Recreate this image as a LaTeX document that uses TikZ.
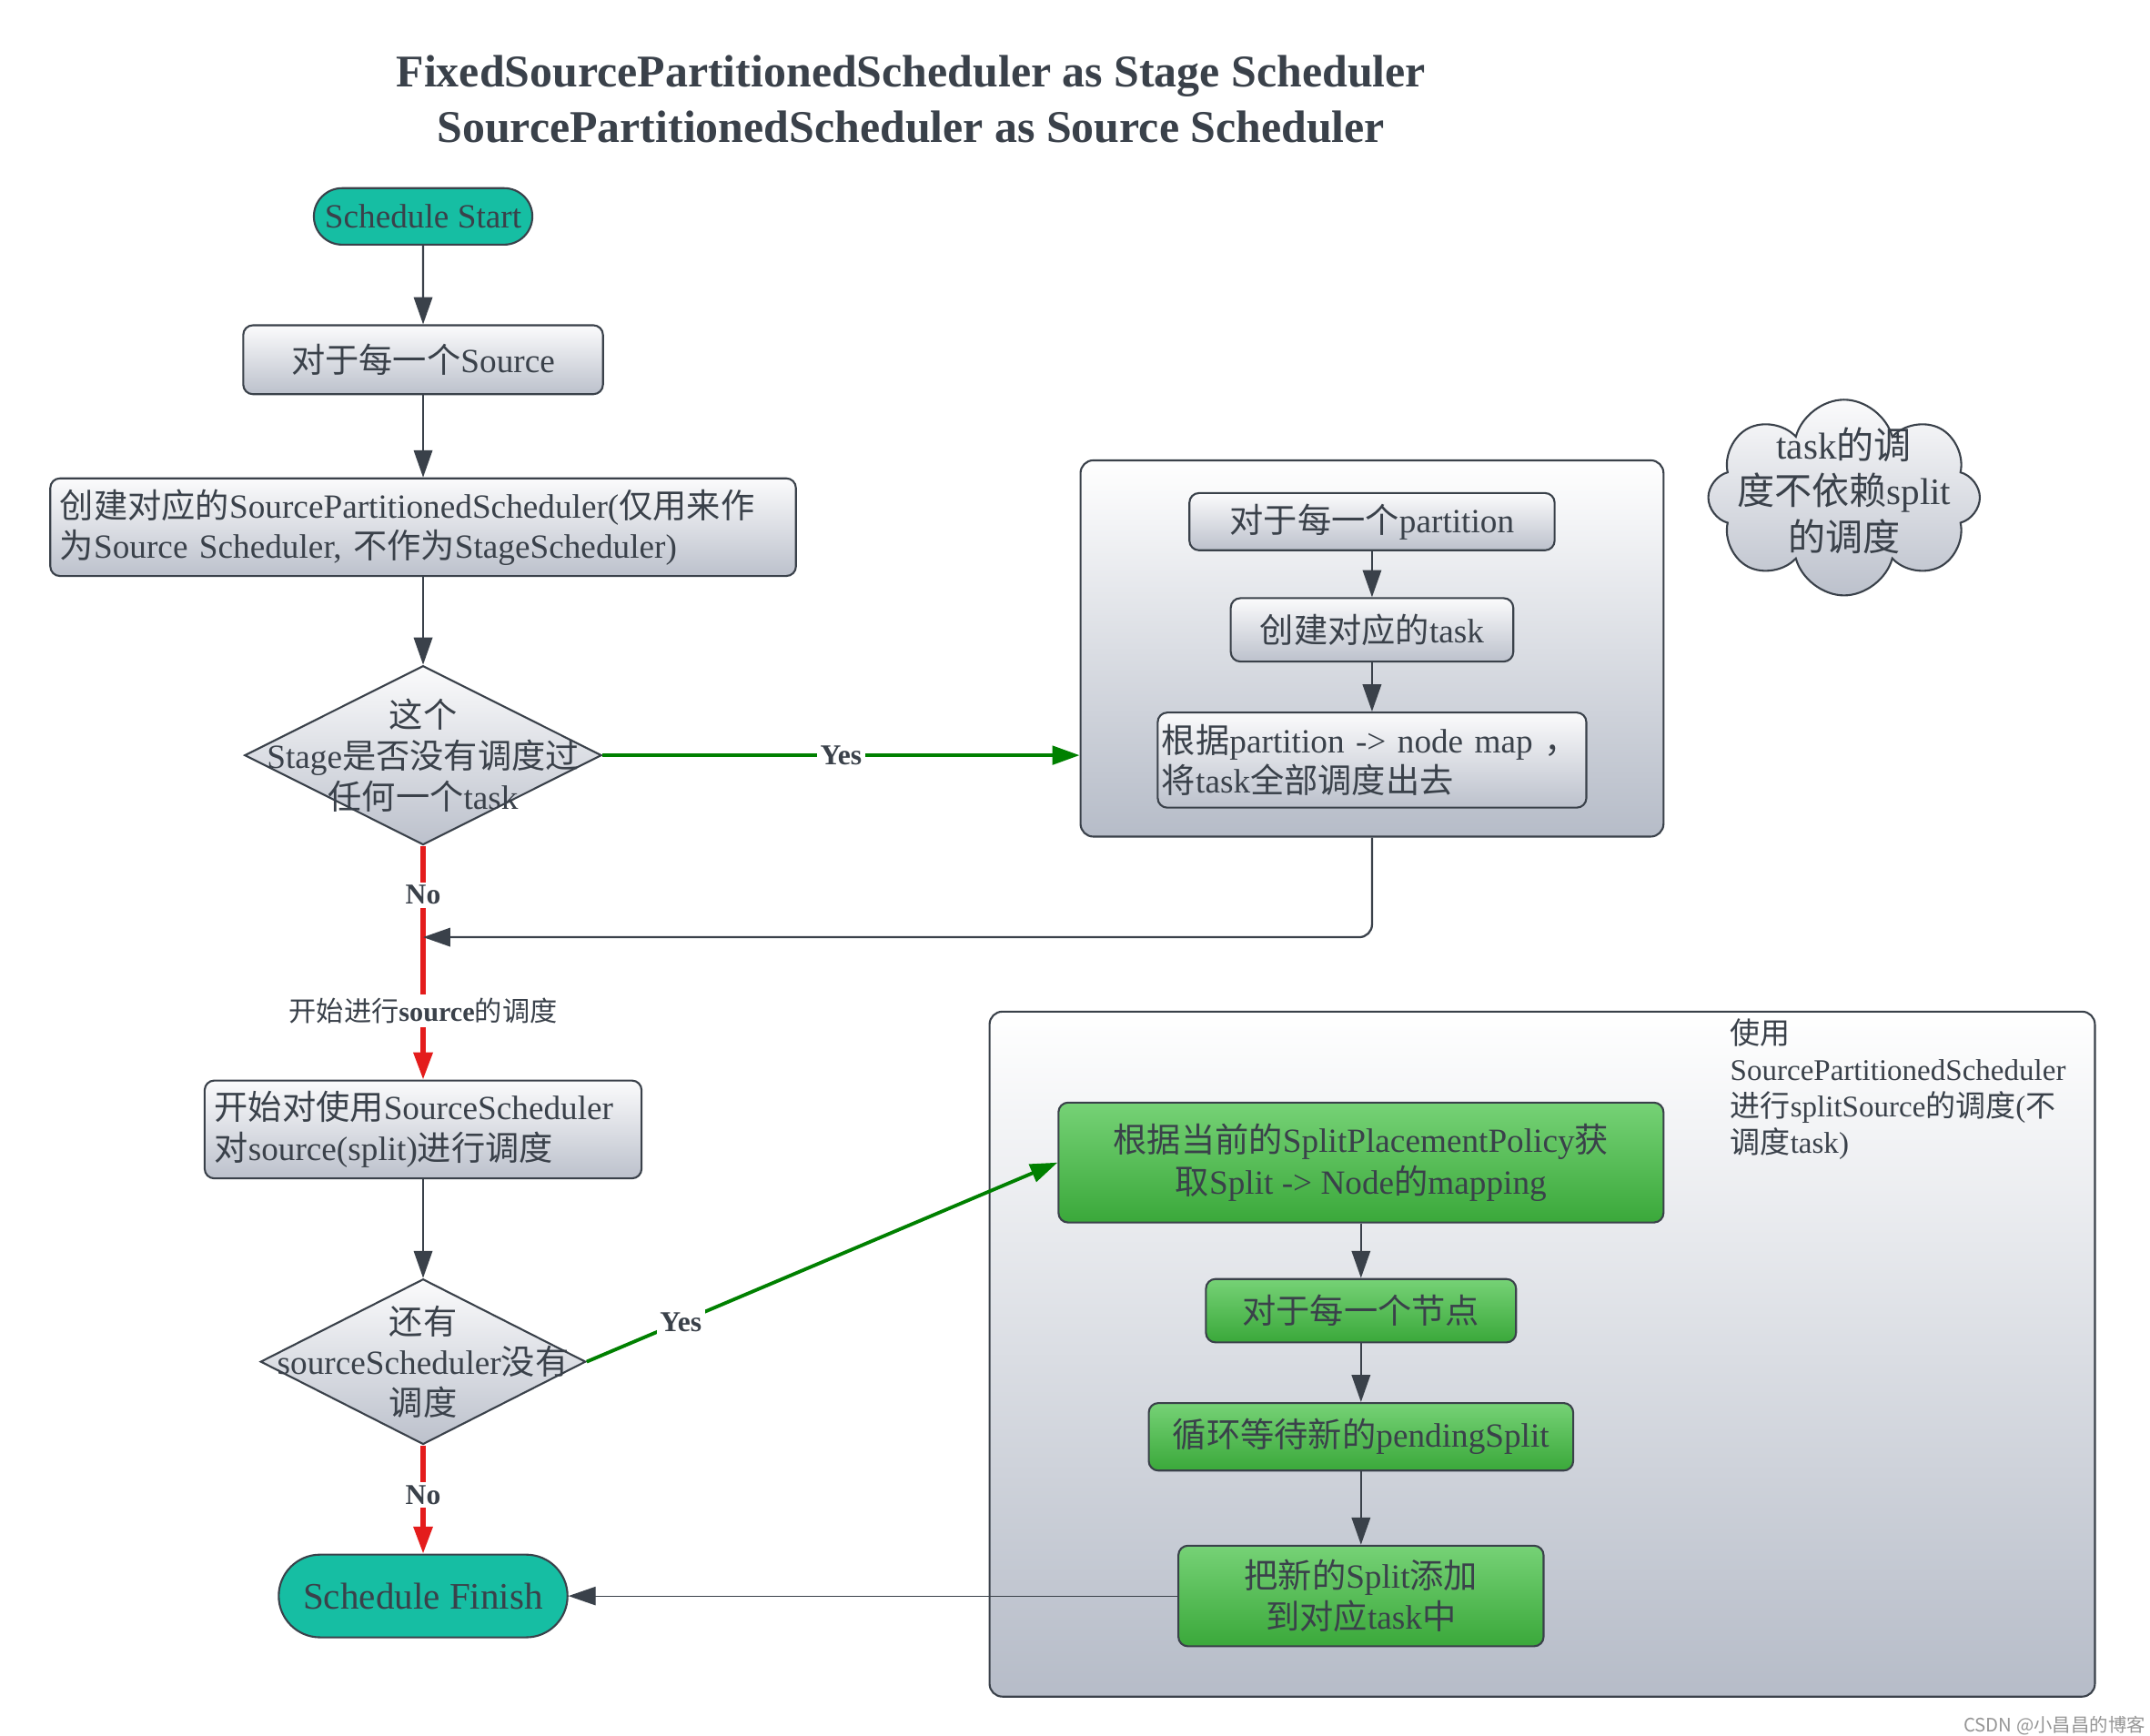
\documentclass[tikz,border=0pt]{standalone}
\usepackage{fontspec}
\setmainfont{Liberation Serif}
\newfontfamily\zhfont{Noto Sans CJK SC}
\newcommand\zh[1]{{\zhfont #1}}
\newcommand\fsz[2]{\fontsize{#1}{#2}\selectfont}
\newcommand\dpx{0.015147cm}
\usetikzlibrary{shapes.geometric,shapes.misc,shapes.symbols,arrows.meta}

\definecolor{ink}{HTML}{3A414A}
\definecolor{boxtop}{RGB}{251,251,252}
\definecolor{boxbot}{RGB}{188,193,204}
\definecolor{grpbot}{RGB}{182,188,200}
\definecolor{startteal}{RGB}{22,190,163}
\definecolor{gtop}{RGB}{118,210,118}
\definecolor{gbot}{RGB}{58,168,58}
\definecolor{okgreen}{RGB}{0,128,0}
\definecolor{nored}{RGB}{228,28,28}
\definecolor{wmgray}{RGB}{150,150,150}

\tikzset{
  tip/.style={-{Triangle[length=8.5pt,width=5.8pt]}},
  flow/.style={tip, draw=ink, line width=0.65pt},
  thinflow/.style={tip, draw=ink, line width=0.35pt},
  yesflow/.style={tip, draw=okgreen, line width=1.1pt},
  noflow/.style={tip, draw=nored, line width=1.5pt},
  lab/.style={fill=white, inner sep=1pt, text=ink, font=\bfseries\fsz{9}{10.5}},
  terminal/.style={rounded rectangle, draw=ink, line width=0.6pt, fill=startteal, text=ink},
  process/.style={rectangle, rounded corners=3pt, draw=ink, line width=0.6pt,
    top color=boxtop, bottom color=boxbot, text=ink, font=\fsz{10.6}{12.6}},
  splitbox/.style={process, top color=gtop, bottom color=gbot, align=center},
  decision/.style={diamond, draw=ink, line width=0.6pt, top color=boxtop,
    bottom color=boxbot, inner sep=0pt},
  group/.style={rectangle, rounded corners=4pt, draw=ink, line width=0.6pt,
    top color=white, bottom color=grpbot},
}

\begin{document}
\begin{tikzpicture}[x=\dpx, y=-\dpx]
\useasboundingbox (0,0) rectangle (1560,1259);
\fill[white] (0,0) rectangle (1560,1259);

% title
\node[align=center, text=ink, font=\bfseries\fsz{14.2}{17.2}] (title) at (661,72)
  {FixedSourcePartitionedScheduler as Stage Scheduler\\SourcePartitionedScheduler as Source Scheduler};

% left column
\node[terminal, minimum width=174*\dpx, minimum height=41*\dpx, font=\fsz{10.6}{12.6}] (start) at (307,157) {Schedule Start};
\node[process, minimum width=261*\dpx, minimum height=50*\dpx] (eachsrc) at (307,261) {\zh{对于每一个}Source};
\node[process, minimum height=65*\dpx, text width=527*\dpx, inner xsep=7*\dpx, align=left] (mksched) at (307,382.5)
  {\zh{创建对应的}SourcePartitionedScheduler(\zh{仅用来作}\\\zh{为}Source Scheduler, \zh{不作为}StageScheduler)};
\node[decision, minimum width=259*\dpx, minimum height=130*\dpx] (stagechk) at (307,548) {};
\node[align=center, text=ink, font=\fsz{10.6}{12.7}] (stagechktext) at (stagechk)
  {\zh{这个}\\Stage\zh{是否没有调度过}\\\zh{任何一个}task};
\node[process, minimum height=71*\dpx, text width=303*\dpx, inner xsep=7*\dpx, align=left] (scan) at (307,819.5)
  {\zh{开始对使用}SourceScheduler\\\zh{对}source(split)\zh{进行调度}};
\node[decision, minimum width=236*\dpx, minimum height=120*\dpx] (morechk) at (307,988) {};
\node[align=center, text=ink, font=\fsz{10.6}{12.7}] (morechktext) at (morechk)
  {\zh{还有}\\sourceScheduler\zh{没有}\\\zh{调度}};
\node[terminal, minimum width=225*\dpx, minimum height=60*\dpx, font=\fsz{11.7}{14}] (finish) at (307,1158) {Schedule Finish};

% task group
\node[group, minimum width=423*\dpx, minimum height=273*\dpx] (taskgrp) at (995.5,470.5) {};
\node[process, minimum width=265*\dpx, minimum height=37*\dpx] (eachpart) at (995.5,378.5) {\zh{对于每一个}partition};
\node[process, minimum width=205*\dpx, minimum height=46*\dpx] (mktask) at (995.5,457) {\zh{创建对应的}task};
\node[process, minimum height=69*\dpx, text width=305*\dpx, inner xsep=3*\dpx, align=left] (assign) at (995.5,551.5)
  {\mbox{\zh{根据}partition -> node map \zh{，}}\\\zh{将}task\zh{全部调度出去}};

% cloud note
\node[cloud, cloud puffs=8, aspect=1.39, draw=ink, line width=0.6pt, top color=boxtop, bottom color=boxbot,
  minimum width=197*\dpx, minimum height=142*\dpx, inner sep=0pt] (cloudnote) at (1338,361) {};
\node[align=center, text=ink, font=\fsz{11.7}{14.4}] (cloudtext) at (1338,356)
  {task\zh{的调}\\\zh{度不依赖}split\\\zh{的调度}};

% split group
\node[group, minimum width=802*\dpx, minimum height=497*\dpx] (splitgrp) at (1119,982.5) {};
\node[anchor=north west, inner sep=0pt, align=left, text=ink, font=\fsz{9.4}{11.3}] (grpnote) at (1255,739)
  {\zh{使用}\\SourcePartitionedScheduler\\\zh{进行}splitSource\zh{的调度}(\zh{不}\\\zh{调度}task)};
\node[splitbox, minimum width=439*\dpx, minimum height=87*\dpx, font=\fsz{10.6}{12.9}] (getmap) at (987.5,843.5)
  {\zh{根据当前的}SplitPlacementPolicy\zh{获}\\\zh{取}Split -> Node\zh{的}mapping};
\node[splitbox, minimum width=225*\dpx, minimum height=46*\dpx] (eachnode) at (987.5,951) {\zh{对于每一个节点}};
\node[splitbox, minimum width=308*\dpx, minimum height=49*\dpx] (waitsplit) at (987.5,1042.5) {\zh{循环等待新的}pendingSplit};
\node[splitbox, minimum width=265*\dpx, minimum height=73*\dpx, font=\fsz{10.6}{12.9}] (addsplit) at (987.5,1158)
  {\zh{把新的}Split\zh{添加}\\\zh{到对应}task\zh{中}};

% connectors
\coordinate (rejoin) at (307,680);
\draw[flow] (start) -- (eachsrc);
\draw[flow] (eachsrc) -- (mksched);
\draw[flow] (mksched) -- (stagechk);
\draw[yesflow] (stagechk.east) -- node[lab]{Yes} (stagechk.east -| taskgrp.west);
\draw[flow] (eachpart) -- (mktask);
\draw[flow] (mktask) -- (assign);
\draw[noflow] (stagechk.south) -- node[lab, pos=0.21]{No}
  node[pos=0.706, fill=white, inner sep=1pt, text=ink, font=\fsz{8.6}{10}]{\zh{开始进行}\textbf{source}\zh{的调度}} (scan.north);
\draw[flow, rounded corners=4pt] (taskgrp.south) |- (rejoin);
\draw[flow] (scan) -- (morechk);
\draw[yesflow] (morechk.east) -- node[lab, pos=0.2]{Yes} (getmap.west);
\draw[noflow] (morechk.south) -- node[lab, pos=0.46]{No} (finish.north);
\draw[flow] (getmap) -- (eachnode);
\draw[flow] (eachnode) -- (waitsplit);
\draw[flow] (waitsplit) -- (addsplit);
\draw[thinflow] (addsplit.west) -- (finish.east);

% watermark
\node[anchor=east, inner sep=0pt, text=wmgray, font=\zhfont\fsz{5.8}{7}] (mark) at (1557,1252) {CSDN @小昌昌的博客};
\end{tikzpicture}
\end{document}
